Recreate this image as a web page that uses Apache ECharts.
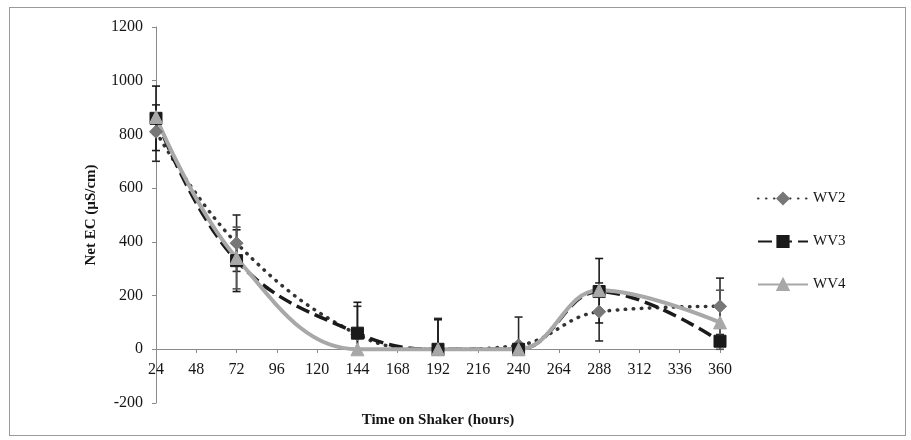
<!DOCTYPE html>
<html>
<head>
<meta charset="utf-8">
<script src="https://cdn.jsdelivr.net/npm/echarts@6/dist/echarts.min.js"></script>
<style>
  html, body { margin: 0; padding: 0; background: #fff; }
  #frame { position: absolute; left: 9px; top: 7px; width: 897px; height: 429px; border: 1px solid #9a9a9a; box-sizing: border-box; }
  #chart { position: absolute; left: 0; top: 0; width: 911px; height: 440px; }
</style>
</head>
<body>
<div id="frame"></div>
<div id="chart"></div>
<script>
// Sampling times (hours on the shaker)
const hours = [24, 72, 144, 192, 240, 288, 360];

// Net EC (µS/cm) per sample
const wv2 = [810, 395, 55, 0, 15, 140, 160];
const wv3 = [860, 330, 60, 0, 0, 215, 30];
const wv4 = [865, 340, 0, 0, 0, 220, 100];

// Error bar half-widths (upper / lower)
const wv2ErrUp = [100, 105, 105, 115, 105, 107, 105];
const wv2ErrDn = [110, 105, 55, 0, 15, 109, 105];
const wv3ErrUp = [120, 115, 115, 110, 0, 123, 0];
const wv3ErrDn = [120, 115, 60, 0, 0, 117, 0];
const wv4ErrUp = [0, 115, 0, 0, 0, 0, 120];
const wv4ErrDn = [0, 115, 0, 0, 0, 0, 100];

const yTicks = [-200, 0, 200, 400, 600, 800, 1000, 1200];

const chart = echarts.init(document.getElementById('chart'));
const font = '"Liberation Serif", "Times New Roman", serif';
const ink = '#151515';

// Plot box and where the horizontal axis sits (at y = 0)
const gridTop = 27, gridBottom = 37, chartH = 440;
const plotH = chartH - gridTop - gridBottom;
const yMin = yTicks[0], yMax = yTicks[yTicks.length - 1];
const zeroShift = -Math.round(plotH * (0 - yMin) / (yMax - yMin));

function errorSeries(name, vals, up, dn, color) {
  const data = hours.map((h, i) => [h, vals[i] - dn[i], vals[i] + up[i]]);
  return {
    type: 'custom',
    name: name + ' error',
    z: 1,
    silent: true,
    renderItem: function (params, api) {
      const x = api.value(0);
      const lo = api.coord([x, api.value(1)]);
      const hi = api.coord([x, api.value(2)]);
      if (Math.abs(hi[1] - lo[1]) < 1) return null;
      const w = 4;
      const st = { stroke: color, lineWidth: 1.6 };
      return {
        type: 'group',
        children: [
          { type: 'line', shape: { x1: lo[0], y1: lo[1], x2: hi[0], y2: hi[1] }, style: st },
          { type: 'line', shape: { x1: hi[0] - w, y1: hi[1], x2: hi[0] + w, y2: hi[1] }, style: st },
          { type: 'line', shape: { x1: lo[0] - w, y1: lo[1], x2: lo[0] + w, y2: lo[1] }, style: st }
        ]
      };
    },
    data: data
  };
}

function lineSeries(name, vals, color, markerColor, type, width, symbol, size, cap) {
  return {
    type: 'line',
    name: name,
    z: 3,
    smooth: 0.4,
    data: hours.map((h, i) => [h, vals[i]]),
    symbol: symbol,
    symbolSize: size,
    lineStyle: { color: color, width: width, type: type, cap: cap || 'butt' },
    itemStyle: { color: markerColor, borderColor: markerColor, borderWidth: 1 }
  };
}

chart.setOption({
  animation: false,
  backgroundColor: 'transparent',
  grid: { left: 156, right: 191, top: gridTop, bottom: gridBottom, containLabel: false, outerBoundsMode: 'none' },
  legend: {
    orient: 'vertical',
    left: 752,
    top: 186,
    itemGap: 28,
    itemWidth: 50,
    itemHeight: 14,
    textStyle: { fontFamily: font, fontSize: 15, color: ink },
    data: ['WV2', 'WV3', 'WV4']
  },
  xAxis: {
    type: 'value',
    min: 24,
    max: 360,
    interval: 24,
    offset: zeroShift,
    name: 'Time on Shaker (hours)',
    nameLocation: 'middle',
    nameGap: 64,
    nameTextStyle: { fontFamily: font, fontSize: 15, fontWeight: 'bold', color: ink },
    axisLine: { onZero: false, lineStyle: { color: '#8a8a8a', width: 1 } },
    axisTick: { show: true, length: 4, lineStyle: { color: '#8a8a8a' } },
    axisLabel: { fontFamily: font, fontSize: 16, color: ink, margin: 13 },
    splitLine: { show: false }
  },
  yAxis: {
    type: 'value',
    min: yMin,
    max: yMax,
    interval: 200,
    name: 'Net EC (µS/cm)',
    nameLocation: 'middle',
    nameGap: 57,
    nameRotate: 90,
    nameTextStyle: { fontFamily: font, fontSize: 15, fontWeight: 'bold', color: ink },
    axisLine: { show: true, lineStyle: { color: '#8a8a8a', width: 1 } },
    axisTick: { show: true, length: 4, lineStyle: { color: '#8a8a8a' } },
    axisLabel: { fontFamily: font, fontSize: 16, color: ink, margin: 13, formatter: v => String(v) },
    splitLine: { show: false }
  },
  series: [
    lineSeries('WV2', wv2, '#333333', '#777777', [0.5, 7.5], 3.5, 'diamond', 13, 'round'),
    lineSeries('WV3', wv3, '#1a1a1a', '#1a1a1a', [14, 6], 3.5, 'rect', 12),
    lineSeries('WV4', wv4, '#a8a8a8', '#a8a8a8', 'solid', 4, 'triangle', 13),
    errorSeries('WV2', wv2, wv2ErrUp, wv2ErrDn, '#2a2a2a'),
    errorSeries('WV3', wv3, wv3ErrUp, wv3ErrDn, '#1a1a1a'),
    errorSeries('WV4', wv4, wv4ErrUp, wv4ErrDn, '#555555')
  ]
});
</script>
</body>
</html>
